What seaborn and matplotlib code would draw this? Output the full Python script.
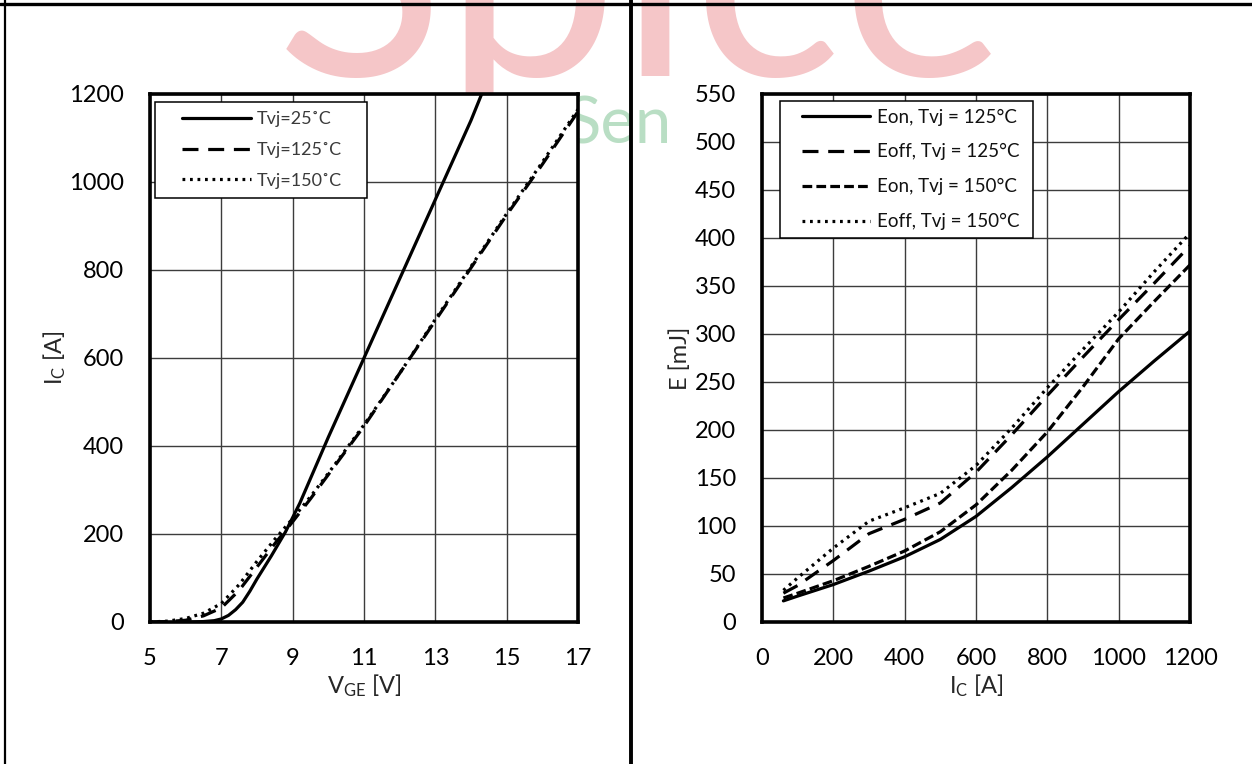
import matplotlib
matplotlib.use("Agg")
import matplotlib.pyplot as plt
import seaborn as sns
from matplotlib.lines import Line2D
from matplotlib.path import Path

# ---------------- data ----------------
# Left: transfer characteristic I_C vs V_GE
vge_25 = [5.8, 6.2, 6.5, 6.8, 7.0, 7.2, 7.4, 7.6, 7.8, 8.0, 8.4, 8.8, 9.2, 9.6, 10.0, 10.5,
          11.0, 11.5, 12.0, 12.5, 13.0, 13.5, 14.0, 14.3]
ic_25 = [0, 0, 1, 3, 7, 15, 28, 45, 70, 98, 150, 205, 270, 345, 420, 510,
         600, 690, 780, 870, 960, 1050, 1140, 1200]
vge_hot = [5.0, 5.5, 6.0, 6.5, 7.0, 7.5, 8.0, 8.5, 9.0, 9.5, 10.0, 11.0, 12.0,
           13.0, 14.0, 15.0, 16.0, 17.0]
ic_125 = [0, 1, 4, 14, 32, 72, 125, 178, 228, 280, 335, 445, 565,
          685, 805, 925, 1040, 1160]
ic_150 = [0, 2, 8, 20, 42, 85, 138, 188, 235, 285, 338, 448, 565,
          688, 808, 928, 1045, 1165]
left_labels = ["Tvj=25\u02daC", "Tvj=125\u02daC", "Tvj=150\u02daC"]
left_xticks = [5, 7, 9, 11, 13, 15, 17]
left_yticks = [0, 200, 400, 600, 800, 1000, 1200]

# Right: switching energies vs I_C
ic_sw = [60, 100, 200, 300, 400, 500, 600, 700, 800, 900, 1000, 1100, 1200]
eon_125 = [22, 27, 39, 53, 68, 86, 110, 140, 172, 206, 240, 272, 303]
eoff_125 = [30, 38, 64, 92, 107, 124, 156, 195, 236, 276, 315, 353, 392]
eon_150 = [25, 30, 43, 58, 74, 94, 122, 158, 198, 245, 295, 334, 372]
eoff_150 = [33, 46, 77, 105, 119, 134, 163, 202, 244, 284, 323, 365, 405]
right_labels = ["Eon, Tvj = 125\u00b0C", "Eoff, Tvj = 125\u00b0C",
                "Eon, Tvj = 150\u00b0C", "Eoff, Tvj = 150\u00b0C"]
right_xticks = [0, 200, 400, 600, 800, 1000, 1200]
right_yticks = list(range(0, 551, 50))

# ---------------- style ----------------
sns.set_style("white")
plt.rcParams["font.family"] = ["Lato", "DejaVu Sans"]
plt.rcParams["mathtext.default"] = "regular"
plt.rcParams["lines.scale_dashes"] = False

SOLID = "-"
LONG_DASH = (0, (11.5, 7.0))
SHORT_DASH = (0, (7.0, 3.0))
DOTTED = (0, (2.0, 3.4))
LW = 2.3

W, H = 1252, 764
fig = plt.figure(figsize=(W / 100, H / 100), dpi=100)
fig.patch.set_facecolor("white")

ax1 = fig.add_axes([150 / W, 1 - 622 / H, 428 / W, 528 / H])
ax2 = fig.add_axes([762 / W, 1 - 622 / H, 428 / W, 528 / H])

# watermark (behind the axes)
fig.text(276 / W, 1 - 76 / H, "Spice", fontsize=224, color="#f5c6c8",
         ha="left", va="baseline", zorder=-1, family="Lato")
fig.text(566 / W, 1 - 144 / H, "Sen", fontsize=47, color="#b9dec4",
         ha="left", va="baseline", zorder=-1, family="Lato")

# frame lines of the page
fig.add_artist(Line2D([0, 1], [1 - 4 / H, 1 - 4 / H], transform=fig.transFigure,
                      color="black", lw=2.4))
fig.add_artist(Line2D([5 / W, 5 / W], [0, 1], transform=fig.transFigure,
                      color="black", lw=1.6))
fig.add_artist(Line2D([630.5 / W, 630.5 / W], [0, 1], transform=fig.transFigure,
                      color="black", lw=2.8))

# ---------------- left chart ----------------
sns.lineplot(x=vge_25, y=ic_25, ax=ax1, color="black", lw=LW, linestyle=SOLID,
             label=left_labels[0])
sns.lineplot(x=vge_hot, y=ic_125, ax=ax1, color="black", lw=LW, linestyle=LONG_DASH,
             label=left_labels[1])
sns.lineplot(x=vge_hot, y=ic_150, ax=ax1, color="black", lw=LW, linestyle=DOTTED,
             label=left_labels[2])
ax1.set_xlim(5, 17)
ax1.set_ylim(0, 1200)
ax1.set_xticks(left_xticks)
ax1.set_yticks(left_yticks)
ax1.set_xlabel("V$_{GE}$ [V]", fontsize=17)
ax1.set_ylabel("I$_{C}$ [A]", fontsize=17)
ax1.xaxis.set_label_coords(0.5, -0.095)
ax1.yaxis.set_label_coords(-0.192, 0.5)

# ---------------- right chart ----------------
sns.lineplot(x=ic_sw, y=eon_125, ax=ax2, color="black", lw=LW, linestyle=SOLID,
             label=right_labels[0])
sns.lineplot(x=ic_sw, y=eoff_125, ax=ax2, color="black", lw=LW, linestyle=LONG_DASH,
             label=right_labels[1])
sns.lineplot(x=ic_sw, y=eon_150, ax=ax2, color="black", lw=LW, linestyle=SHORT_DASH,
             label=right_labels[2])
sns.lineplot(x=ic_sw, y=eoff_150, ax=ax2, color="black", lw=LW, linestyle=DOTTED,
             label=right_labels[3])
ax2.set_xlim(0, 1200)
ax2.set_ylim(0, 550)
ax2.set_xticks(right_xticks)
ax2.set_yticks(right_yticks)
ax2.set_xlabel("I$_{C}$ [A]", fontsize=17)
ax2.set_ylabel("E [mJ]", fontsize=17)
ax2.xaxis.set_label_coords(0.5, -0.095)
ax2.yaxis.set_label_coords(-0.165, 0.5)

for ax, ypad in ((ax1, 19.0), (ax2, 18.5)):
    ax.set_facecolor("white")
    ax.grid(True, color="#3c3c3c", lw=1.0)
    ax.set_axisbelow(True)
    ax.tick_params(axis="both", length=0, labelsize=17, colors="black")
    ax.tick_params(axis="x", pad=18.5)
    ax.tick_params(axis="y", pad=ypad)
    for sp in ax.spines.values():
        sp.set_visible(True)
        sp.set_color("black")
        sp.set_linewidth(2.6)
        sp.set_zorder(5)


def wide_box(extra_left, extra_right):
    def box(x0, y0, width, height, mutation_size):
        xa = x0 - extra_left
        xb = x0 + width + extra_right
        return Path([(xa, y0), (xb, y0), (xb, y0 + height), (xa, y0 + height), (xa, y0)],
                    closed=True)
    return box


# left legend
leg1 = ax1.legend(loc="upper left", bbox_to_anchor=((155 + 18 - 150) / 428, (622 - 102) / 528),
                  fontsize=13, handlelength=3.82, handletextpad=0.3, labelspacing=0.82,
                  borderpad=0.5, borderaxespad=0, frameon=True, fancybox=False,
                  edgecolor="black", framealpha=1, facecolor="white")
leg1.get_frame().set_linewidth(1.1)
leg1.legendPatch.set_boxstyle(wide_box(18, 16))
for t in leg1.get_texts():
    t.set_color("#3a3a3a")

# right legend
leg2 = ax2.legend(loc="upper left", bbox_to_anchor=((780 + 14 - 762) / 428, (622 - 101) / 528),
                  fontsize=13.5, handlelength=3.65, handletextpad=0.4, labelspacing=0.95,
                  borderpad=0.4, borderaxespad=0, frameon=True, fancybox=False,
                  edgecolor="black", framealpha=1, facecolor="white")
leg2.get_frame().set_linewidth(1.1)
leg2.legendPatch.set_boxstyle(wide_box(14, 6))
for t in leg2.get_texts():
    t.set_color("#111111")

fig.savefig("out.png", dpi=100, facecolor="white")
